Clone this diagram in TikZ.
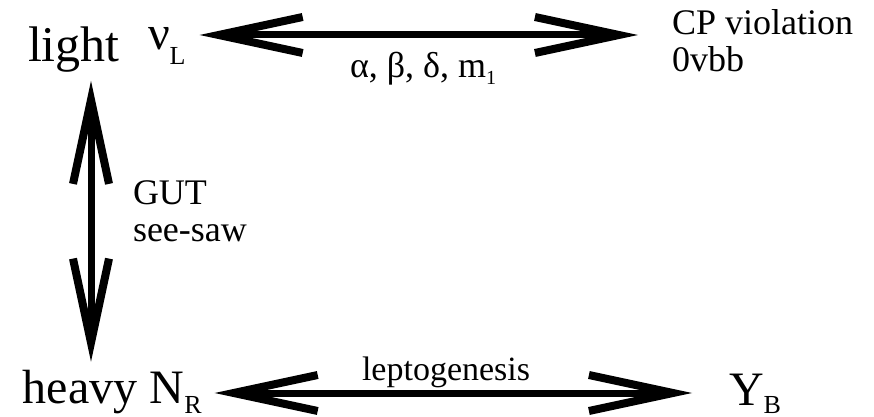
\documentclass[tikz,border=0pt]{standalone}
\usepackage{fontspec}
\setmainfont{Liberation Serif}
\usetikzlibrary{arrows.meta,positioning,calc}
\newcommand{\subtxt}[2]{\raisebox{#1}{\fontsize{13}{13}\selectfont #2}}
\begin{document}
\begin{tikzpicture}[x=0.5pt,y=-0.5pt,
					every node/.style={inner sep=0pt, outer sep=0pt, anchor=base west},
					big/.style={font=\fontsize{24}{24}\selectfont},
					small/.style={font=\fontsize{18}{18.5}\selectfont, align=left},
					twoway/.style={line width=3.5pt,
						{Straight Barb[length=42pt,width=18pt,line width=4pt]}-{Straight Barb[length=42pt,width=18pt,line width=4pt]}}]
				\useasboundingbox (0,0) rectangle (874,417);
				% left column
				\node[big,font=\fontsize{25}{25}\selectfont] (light) at (28,62) {light};
				\node[big] (nuL) at (148,50) {ν\subtxt{-7.5pt}{L}};
				\node[big] (heavy) at (23,403) {heavy N\subtxt{-5pt}{R}};
				% right column
				\node[small] (cp) at (672,72) {CP violation\\0vbb};
				\node[big] (YB) at (729,405) {Y\subtxt{-4pt}{B}};
				% labels on the arrows
				\node[small] (params) at (350,78) {α, β, δ, m\raisebox{-3.5pt}{\fontsize{10}{10}\selectfont 1}};
				\node[small] (gut) at (133,242) {GUT\\see-saw};
				\node[small,font=\fontsize{17}{17}\selectfont] (lepto) at (362,380) {leptogenesis};
				% arrows
				\draw[twoway, shorten <=7pt, shorten >=17pt] (nuL.east |- 0,35) -- (cp.west |- 0,35);
				\draw[twoway, shorten <=4pt, shorten >=4pt] (light.south -| 91,0) -- (heavy.north -| 91,0);
				\draw[twoway, shorten <=6.5pt, shorten >=18.5pt] (heavy.east |- 0,393) -- (YB.west |- 0,393);
\end{tikzpicture}
\end{document}
